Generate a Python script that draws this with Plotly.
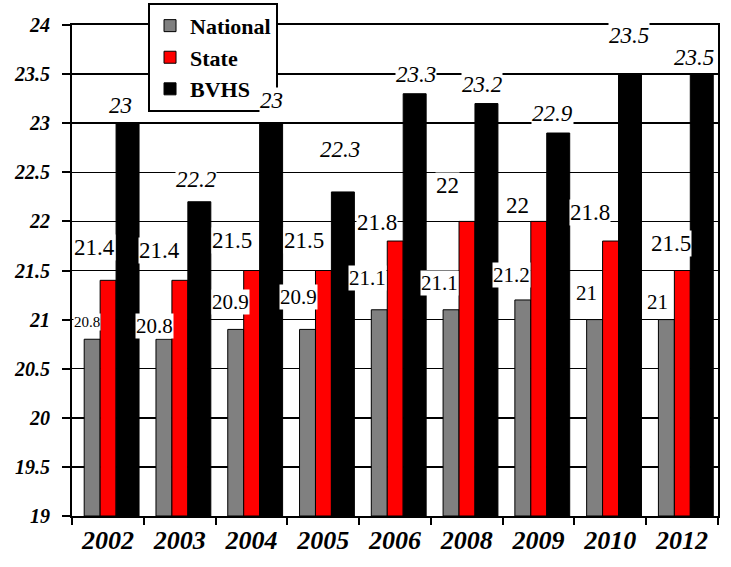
import plotly.graph_objects as go

years = ["2002", "2003", "2004", "2005", "2006", "2008", "2009", "2010", "2012"]
national = [20.8, 20.8, 20.9, 20.9, 21.1, 21.1, 21.2, 21.0, 21.0]
state = [21.4, 21.4, 21.5, 21.5, 21.8, 22.0, 22.0, 21.8, 21.5]
bvhs = [23.0, 22.2, 23.0, 22.3, 23.3, 23.2, 22.9, 23.5, 23.5]
y_ticks = [19, 19.5, 20, 20.5, 21, 21.5, 22, 22.5, 23, 23.5, 24]

# label text offsets (pixels, relative to the category centre / value)
nat_dx = [-21, -25, -21, -25, -28, -27, -27, -24, -25]
nat_dy = [17, 13, 27, 32, 32, 27, 25, 27, 18]
st_dx = [-13, -20, -19, -19, -18, -19, -21, -20, -11]
st_dy = [33, 30, 30, 30, 19, 36, 16, 29, 27]
bv_dx = [13, 16, 20, 17, 21, 15, 14, 19, 12]
bv_dy = [18, 22, 23, 42, 19, 19, 20, 39, 17]

BASE = 19
SERIF = "Liberation Serif"
pos = list(range(len(years)))

fig = go.Figure()
series = [
    ("National", national, "#808080", -0.33, 0.222),
    ("State", state, "#FF0000", -0.108, 0.222),
    ("BVHS", bvhs, "#000000", 0.114, 0.32),
]
for name, vals, color, off, w in series:
    fig.add_trace(go.Bar(
        name=name, x=pos, y=[v - BASE for v in vals], base=BASE,
        offset=off, width=w,
        marker=dict(color=color, line=dict(color="black", width=1)),
        hoverinfo="skip",
    ))

def fmt(v):
    return f"{v:g}"

ann = []
for i in pos:
    ann.append(dict(x=i, y=national[i], text=fmt(national[i]), xshift=nat_dx[i], yshift=nat_dy[i],
                    font=dict(family=SERIF, size=15 if i == 0 else 21, color="black")))
    ann.append(dict(x=i, y=state[i], text=fmt(state[i]), xshift=st_dx[i], yshift=st_dy[i],
                    font=dict(family=SERIF, size=23, color="black")))
    ann.append(dict(x=i, y=bvhs[i], text=fmt(bvhs[i]), xshift=bv_dx[i], yshift=bv_dy[i],
                    font=dict(family=SERIF, size=23, color="black", style="italic")))
for a in ann:
    a.update(xref="x", yref="y", showarrow=False, xanchor="center", yanchor="middle",
             bgcolor="white", borderpad=0)

fig.update_layout(
    width=731, height=567,
    margin=dict(l=72, r=13, t=25, b=51, autoexpand=False),
    paper_bgcolor="white", plot_bgcolor="white",
    barmode="overlay",
    showlegend=True,
    legend=dict(
        xref="container", yref="container",
        x=0.2025, y=0.995, xanchor="left", yanchor="top",
        bgcolor="white", bordercolor="black", borderwidth=2,
        font=dict(family=SERIF, size=22, color="black", weight="bold"),
        traceorder="normal", tracegroupgap=0,
    ),
    annotations=ann,
)
fig.update_xaxes(
    range=[-0.5, len(years) - 0.5], automargin=False,
    tickvals=pos, ticktext=years, ticks="",
    showline=True, linecolor="black", linewidth=2, mirror=True,
    showgrid=False, zeroline=False,
    tickfont=dict(family=SERIF, size=26, color="black", weight="bold", style="italic"),
)
# boundary tick marks on a second, overlaid axis
fig.update_layout(xaxis2=dict(
    overlaying="x", matches="x", side="bottom", automargin=False,
    tickvals=[p - 0.5 for p in pos] + [len(years) - 0.5], ticks="outside",
    ticklen=8, tickwidth=2, tickcolor="black", showticklabels=False,
    showgrid=False, zeroline=False, showline=False,
))
fig.add_trace(go.Scatter(x=[], y=[], xaxis="x2", showlegend=False))
fig.update_yaxes(
    range=[19, 24], tickvals=y_ticks, ticktext=[fmt(t) for t in y_ticks], automargin=False,
    ticks="outside", ticklen=8, tickwidth=2, tickcolor="black",
    showline=True, linecolor="black", linewidth=2, mirror=True,
    showgrid=True, gridcolor="black", gridwidth=1.5, zeroline=False,
    ticklabelstandoff=8,
    tickfont=dict(family=SERIF, size=20, color="black", weight="bold", style="italic"),
)

fig.write_html(
    "out.html",
    config={"displayModeBar": False, "staticPlot": True},
    post_script="document.body.style.margin='0';document.body.style.overflow='hidden';",
)
